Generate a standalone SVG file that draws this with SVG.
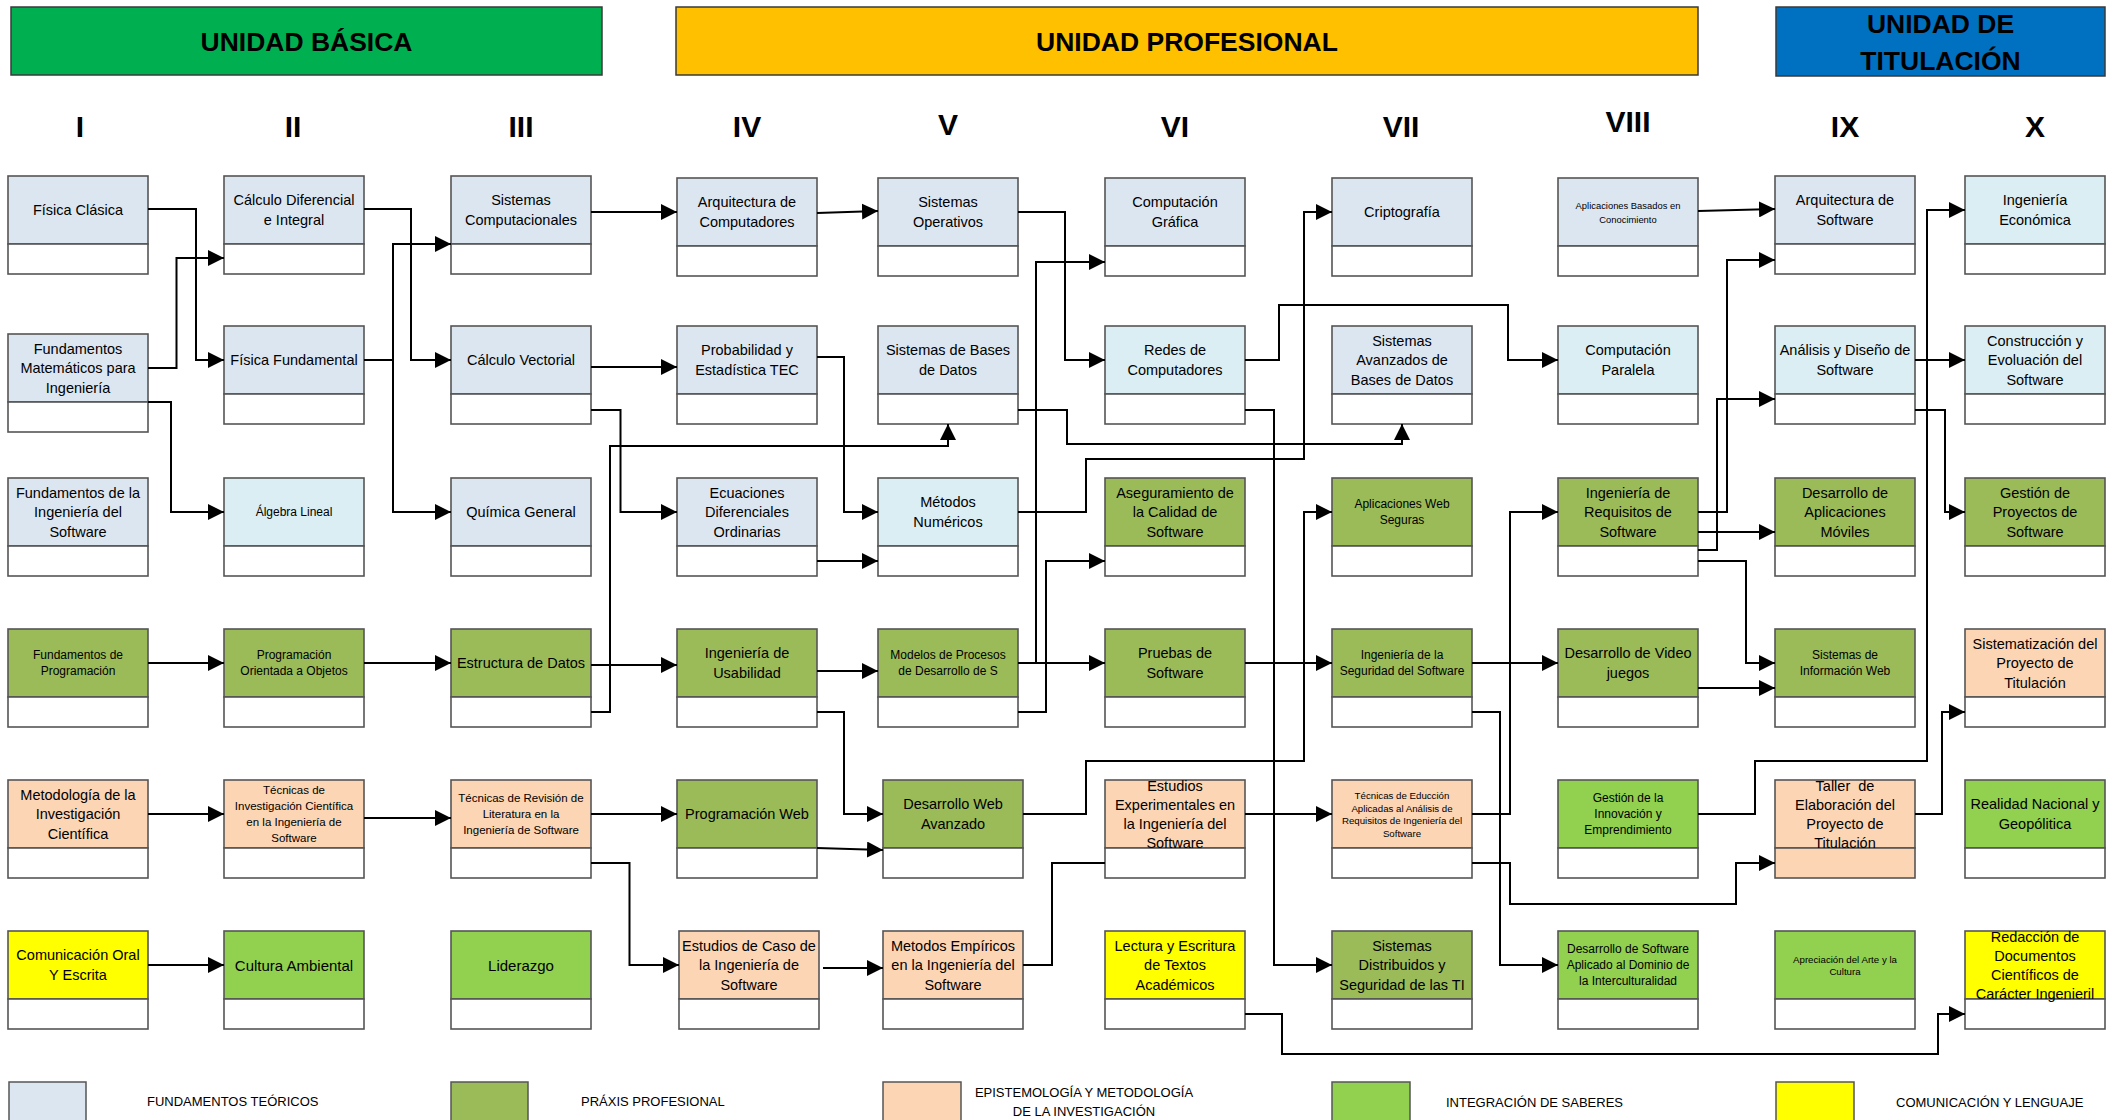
<svg xmlns="http://www.w3.org/2000/svg" width="2118" height="1120" viewBox="0 0 2118 1120">
<style>
text{font-family:"Liberation Sans",Arial,sans-serif;fill:#000}
.lbl,.lbl tspan{dominant-baseline:central;text-anchor:middle}
.t{font-size:14.5px}
.m{font-size:15px}
.s{font-size:12px}
.s2{font-size:11.5px}
.xs{font-size:9.7px}
.xs2{font-size:9.4px}
.hdr{font-size:26.5px;font-weight:bold;text-anchor:middle}
.rom{font-size:30px;font-weight:bold;text-anchor:middle}
.leg{font-size:13px}
.node rect{stroke:#555;stroke-width:1.6}
.bar{stroke:#3a3a3a;stroke-width:1.5}
.bot{fill:#fff}
.teo{fill:#DCE6F1}.teo2{fill:#DAEEF3}.pra{fill:#9BBB59}.epi{fill:#FCD5B4}.int{fill:#92D050}.com{fill:#FFFF00}
.conn path{fill:none;stroke:#000;stroke-width:2;marker-end:url(#ah)}
.conn path.na{marker-end:none}
.legsq{stroke:#555;stroke-width:1.5}
</style>
<defs>
<marker id="ah" markerUnits="userSpaceOnUse" viewBox="0 0 16 16" markerWidth="16" markerHeight="16" refX="16" refY="8" orient="auto"><path d="M0,0 L16,8 L0,16 z" fill="#000"/></marker>
</defs>
<rect width="2118" height="1120" fill="#fff"/>

<g id="headers">
<g id="hdr-basica"><rect class="bar" x="11" y="7" width="591" height="68" fill="#00B050"/><text class="hdr" x="306.5" y="50.5">UNIDAD BÁSICA</text></g>
<g id="hdr-profesional"><rect class="bar" x="676" y="7" width="1022" height="68" fill="#FFC000"/><text class="hdr" x="1187" y="50.5">UNIDAD PROFESIONAL</text></g>
<g id="hdr-titulacion"><rect class="bar" x="1776" y="7" width="329" height="69" fill="#0070C0"/><text class="hdr" x="1940.5" y="33">UNIDAD DE</text><text class="hdr" x="1940.5" y="69.5">TITULACIÓN</text></g>
</g>

<g id="semesters">
<text class="rom" x="80" y="137">I</text>
<text class="rom" x="293" y="137">II</text>
<text class="rom" x="521" y="137">III</text>
<text class="rom" x="747" y="137">IV</text>
<text class="rom" x="948" y="135">V</text>
<text class="rom" x="1175" y="137">VI</text>
<text class="rom" x="1401" y="137">VII</text>
<text class="rom" x="1628" y="132">VIII</text>
<text class="rom" x="1845" y="137">IX</text>
<text class="rom" x="2035" y="137">X</text>
</g>

<g id="nodes">
<!-- Column I -->
<g id="n-fisica-clasica" class="node"><rect class="teo" x="8" y="176" width="140" height="68"/><rect class="bot" x="8" y="244" width="140" height="30"/><text class="lbl t" x="78" y="210">Física Clásica</text></g>
<g id="n-fund-matematicos" class="node"><rect class="teo" x="8" y="334" width="140" height="68"/><rect class="bot" x="8" y="402" width="140" height="30"/><text class="lbl t" x="78" y="348.5"><tspan x="78" dy="0">Fundamentos</tspan><tspan x="78" dy="19.5">Matemáticos para</tspan><tspan x="78" dy="19.5">Ingeniería</tspan></text></g>
<g id="n-fund-ing-software" class="node"><rect class="teo" x="8" y="478" width="140" height="68"/><rect class="bot" x="8" y="546" width="140" height="30"/><text class="lbl t" x="78" y="492.5"><tspan x="78" dy="0">Fundamentos de la</tspan><tspan x="78" dy="19.5">Ingeniería del</tspan><tspan x="78" dy="19.5">Software</tspan></text></g>
<g id="n-fund-programacion" class="node"><rect class="pra" x="8" y="629" width="140" height="68"/><rect class="bot" x="8" y="697" width="140" height="30"/><text class="lbl s" x="78" y="655"><tspan x="78" dy="0">Fundamentos de</tspan><tspan x="78" dy="16">Programación</tspan></text></g>
<g id="n-metodologia" class="node"><rect class="epi" x="8" y="780" width="140" height="68"/><rect class="bot" x="8" y="848" width="140" height="30"/><text class="lbl t" x="78" y="794.5"><tspan x="78" dy="0">Metodología de la</tspan><tspan x="78" dy="19.5">Investigación</tspan><tspan x="78" dy="19.5">Científica</tspan></text></g>
<g id="n-comunicacion-oral" class="node"><rect class="com" x="8" y="931" width="140" height="68"/><rect class="bot" x="8" y="999" width="140" height="30"/><text class="lbl t" x="78" y="955.25"><tspan x="78" dy="0">Comunicación Oral</tspan><tspan x="78" dy="19.5">Y Escrita</tspan></text></g>

<!-- Column II -->
<g id="n-calculo-diferencial" class="node"><rect class="teo" x="224" y="176" width="140" height="68"/><rect class="bot" x="224" y="244" width="140" height="30"/><text class="lbl t" x="294" y="200.25"><tspan x="294" dy="0">Cálculo Diferencial</tspan><tspan x="294" dy="19.5">e Integral</tspan></text></g>
<g id="n-fisica-fundamental" class="node"><rect class="teo" x="224" y="326" width="140" height="68"/><rect class="bot" x="224" y="394" width="140" height="30"/><text class="lbl t" x="294" y="360">Física Fundamental</text></g>
<g id="n-algebra-lineal" class="node"><rect class="teo2" x="224" y="478" width="140" height="68"/><rect class="bot" x="224" y="546" width="140" height="30"/><text class="lbl s" x="294" y="512">Álgebra Lineal</text></g>
<g id="n-poo" class="node"><rect class="pra" x="224" y="629" width="140" height="68"/><rect class="bot" x="224" y="697" width="140" height="30"/><text class="lbl s" x="294" y="655"><tspan x="294" dy="0">Programación</tspan><tspan x="294" dy="16">Orientada a Objetos</tspan></text></g>
<g id="n-tecnicas-investigacion" class="node"><rect class="epi" x="224" y="780" width="140" height="68"/><rect class="bot" x="224" y="848" width="140" height="30"/><text class="lbl s2" x="294" y="790"><tspan x="294" dy="0">Técnicas de</tspan><tspan x="294" dy="16">Investigación Científica</tspan><tspan x="294" dy="16">en la Ingeniería de</tspan><tspan x="294" dy="16">Software</tspan></text></g>
<g id="n-cultura-ambiental" class="node"><rect class="int" x="224" y="931" width="140" height="68"/><rect class="bot" x="224" y="999" width="140" height="30"/><text class="lbl m" x="294" y="965">Cultura Ambiental</text></g>

<!-- Column III -->
<g id="n-sistemas-computacionales" class="node"><rect class="teo" x="451" y="176" width="140" height="68"/><rect class="bot" x="451" y="244" width="140" height="30"/><text class="lbl t" x="521" y="200.25"><tspan x="521" dy="0">Sistemas</tspan><tspan x="521" dy="19.5">Computacionales</tspan></text></g>
<g id="n-calculo-vectorial" class="node"><rect class="teo" x="451" y="326" width="140" height="68"/><rect class="bot" x="451" y="394" width="140" height="30"/><text class="lbl t" x="521" y="360">Cálculo Vectorial</text></g>
<g id="n-quimica-general" class="node"><rect class="teo" x="451" y="478" width="140" height="68"/><rect class="bot" x="451" y="546" width="140" height="30"/><text class="lbl t" x="521" y="512">Química General</text></g>
<g id="n-estructura-datos" class="node"><rect class="pra" x="451" y="629" width="140" height="68"/><rect class="bot" x="451" y="697" width="140" height="30"/><text class="lbl t" x="521" y="663">Estructura de Datos</text></g>
<g id="n-tecnicas-revision" class="node"><rect class="epi" x="451" y="780" width="140" height="68"/><rect class="bot" x="451" y="848" width="140" height="30"/><text class="lbl s2" x="521" y="798"><tspan x="521" dy="0">Técnicas de Revisión de</tspan><tspan x="521" dy="16">Literatura en la</tspan><tspan x="521" dy="16">Ingeniería de Software</tspan></text></g>
<g id="n-liderazgo" class="node"><rect class="int" x="451" y="931" width="140" height="68"/><rect class="bot" x="451" y="999" width="140" height="30"/><text class="lbl m" x="521" y="965">Liderazgo</text></g>

<!-- Column IV -->
<g id="n-arq-computadores" class="node"><rect class="teo" x="677" y="178" width="140" height="68"/><rect class="bot" x="677" y="246" width="140" height="30"/><text class="lbl t" x="747" y="202.25"><tspan x="747" dy="0">Arquitectura de</tspan><tspan x="747" dy="19.5">Computadores</tspan></text></g>
<g id="n-probabilidad" class="node"><rect class="teo" x="677" y="326" width="140" height="68"/><rect class="bot" x="677" y="394" width="140" height="30"/><text class="lbl t" x="747" y="350.25"><tspan x="747" dy="0">Probabilidad y</tspan><tspan x="747" dy="19.5">Estadística TEC</tspan></text></g>
<g id="n-ecuaciones" class="node"><rect class="teo" x="677" y="478" width="140" height="68"/><rect class="bot" x="677" y="546" width="140" height="30"/><text class="lbl t" x="747" y="492.5"><tspan x="747" dy="0">Ecuaciones</tspan><tspan x="747" dy="19.5">Diferenciales</tspan><tspan x="747" dy="19.5">Ordinarias</tspan></text></g>
<g id="n-ing-usabilidad" class="node"><rect class="pra" x="677" y="629" width="140" height="68"/><rect class="bot" x="677" y="697" width="140" height="30"/><text class="lbl t" x="747" y="653.25"><tspan x="747" dy="0">Ingeniería de</tspan><tspan x="747" dy="19.5">Usabilidad</tspan></text></g>
<g id="n-programacion-web" class="node"><rect class="pra" x="677" y="780" width="140" height="68"/><rect class="bot" x="677" y="848" width="140" height="30"/><text class="lbl t" x="747" y="814">Programación Web</text></g>
<g id="n-estudios-caso" class="node"><rect class="epi" x="679" y="931" width="140" height="68"/><rect class="bot" x="679" y="999" width="140" height="30"/><text class="lbl t" x="749" y="945.5"><tspan x="749" dy="0">Estudios de Caso de</tspan><tspan x="749" dy="19.5">la Ingeniería de</tspan><tspan x="749" dy="19.5">Software</tspan></text></g>

<!-- Column V -->
<g id="n-sistemas-operativos" class="node"><rect class="teo" x="878" y="178" width="140" height="68"/><rect class="bot" x="878" y="246" width="140" height="30"/><text class="lbl t" x="948" y="202.25"><tspan x="948" dy="0">Sistemas</tspan><tspan x="948" dy="19.5">Operativos</tspan></text></g>
<g id="n-sistemas-bd" class="node"><rect class="teo" x="878" y="326" width="140" height="68"/><rect class="bot" x="878" y="394" width="140" height="30"/><text class="lbl t" x="948" y="350.25"><tspan x="948" dy="0">Sistemas de Bases</tspan><tspan x="948" dy="19.5">de Datos</tspan></text></g>
<g id="n-metodos-numericos" class="node"><rect class="teo2" x="878" y="478" width="140" height="68"/><rect class="bot" x="878" y="546" width="140" height="30"/><text class="lbl t" x="948" y="502.25"><tspan x="948" dy="0">Métodos</tspan><tspan x="948" dy="19.5">Numéricos</tspan></text></g>
<g id="n-modelos-procesos" class="node"><rect class="pra" x="878" y="629" width="140" height="68"/><rect class="bot" x="878" y="697" width="140" height="30"/><text class="lbl s" x="948" y="655"><tspan x="948" dy="0">Modelos de Procesos</tspan><tspan x="948" dy="16">de Desarrollo de S</tspan></text></g>
<g id="n-desarrollo-web-avanzado" class="node"><rect class="pra" x="883" y="780" width="140" height="68"/><rect class="bot" x="883" y="848" width="140" height="30"/><text class="lbl t" x="953" y="804.25"><tspan x="953" dy="0">Desarrollo Web</tspan><tspan x="953" dy="19.5">Avanzado</tspan></text></g>
<g id="n-metodos-empiricos" class="node"><rect class="epi" x="883" y="931" width="140" height="68"/><rect class="bot" x="883" y="999" width="140" height="30"/><text class="lbl t" x="953" y="945.5"><tspan x="953" dy="0">Metodos Empíricos</tspan><tspan x="953" dy="19.5">en la Ingeniería del</tspan><tspan x="953" dy="19.5">Software</tspan></text></g>

<!-- Column VI -->
<g id="n-computacion-grafica" class="node"><rect class="teo" x="1105" y="178" width="140" height="68"/><rect class="bot" x="1105" y="246" width="140" height="30"/><text class="lbl t" x="1175" y="202.25"><tspan x="1175" dy="0">Computación</tspan><tspan x="1175" dy="19.5">Gráfica</tspan></text></g>
<g id="n-redes" class="node"><rect class="teo2" x="1105" y="326" width="140" height="68"/><rect class="bot" x="1105" y="394" width="140" height="30"/><text class="lbl t" x="1175" y="350.25"><tspan x="1175" dy="0">Redes de</tspan><tspan x="1175" dy="19.5">Computadores</tspan></text></g>
<g id="n-aseguramiento" class="node"><rect class="pra" x="1105" y="478" width="140" height="68"/><rect class="bot" x="1105" y="546" width="140" height="30"/><text class="lbl t" x="1175" y="492.5"><tspan x="1175" dy="0">Aseguramiento de</tspan><tspan x="1175" dy="19.5">la Calidad de</tspan><tspan x="1175" dy="19.5">Software</tspan></text></g>
<g id="n-pruebas" class="node"><rect class="pra" x="1105" y="629" width="140" height="68"/><rect class="bot" x="1105" y="697" width="140" height="30"/><text class="lbl t" x="1175" y="653.25"><tspan x="1175" dy="0">Pruebas de</tspan><tspan x="1175" dy="19.5">Software</tspan></text></g>
<g id="n-estudios-experimentales" class="node"><rect class="epi" x="1105" y="780" width="140" height="68"/><rect class="bot" x="1105" y="848" width="140" height="30"/><text class="lbl t" x="1175" y="785.5"><tspan x="1175" dy="0">Estudios</tspan><tspan x="1175" dy="19">Experimentales en</tspan><tspan x="1175" dy="19">la Ingeniería del</tspan><tspan x="1175" dy="19">Software</tspan></text></g>
<g id="n-lectura-escritura" class="node"><rect class="com" x="1105" y="931" width="140" height="68"/><rect class="bot" x="1105" y="999" width="140" height="30"/><text class="lbl t" x="1175" y="945.5"><tspan x="1175" dy="0">Lectura y Escritura</tspan><tspan x="1175" dy="19.5">de Textos</tspan><tspan x="1175" dy="19.5">Académicos</tspan></text></g>

<!-- Column VII -->
<g id="n-criptografia" class="node"><rect class="teo" x="1332" y="178" width="140" height="68"/><rect class="bot" x="1332" y="246" width="140" height="30"/><text class="lbl t" x="1402" y="212">Criptografía</text></g>
<g id="n-sistemas-avanzados-bd" class="node"><rect class="teo" x="1332" y="326" width="140" height="68"/><rect class="bot" x="1332" y="394" width="140" height="30"/><text class="lbl t" x="1402" y="340.5"><tspan x="1402" dy="0">Sistemas</tspan><tspan x="1402" dy="19.5">Avanzados de</tspan><tspan x="1402" dy="19.5">Bases de Datos</tspan></text></g>
<g id="n-aplicaciones-web-seguras" class="node"><rect class="pra" x="1332" y="478" width="140" height="68"/><rect class="bot" x="1332" y="546" width="140" height="30"/><text class="lbl s" x="1402" y="504"><tspan x="1402" dy="0">Aplicaciones Web</tspan><tspan x="1402" dy="16">Seguras</tspan></text></g>
<g id="n-ing-seguridad" class="node"><rect class="pra" x="1332" y="629" width="140" height="68"/><rect class="bot" x="1332" y="697" width="140" height="30"/><text class="lbl s" x="1402" y="655"><tspan x="1402" dy="0">Ingeniería de la</tspan><tspan x="1402" dy="16">Seguridad del Software</tspan></text></g>
<g id="n-tecnicas-educcion" class="node"><rect class="epi" x="1332" y="780" width="140" height="68"/><rect class="bot" x="1332" y="848" width="140" height="30"/><text class="lbl xs" x="1402" y="794.8"><tspan x="1402" dy="0">Técnicas de Educción</tspan><tspan x="1402" dy="12.8">Aplicadas al Análisis de</tspan><tspan x="1402" dy="12.8">Requisitos de Ingeniería del</tspan><tspan x="1402" dy="12.8">Software</tspan></text></g>
<g id="n-sistemas-distribuidos" class="node"><rect class="pra" x="1332" y="931" width="140" height="68"/><rect class="bot" x="1332" y="999" width="140" height="30"/><text class="lbl t" x="1402" y="945.5"><tspan x="1402" dy="0">Sistemas</tspan><tspan x="1402" dy="19.5">Distribuidos y</tspan><tspan x="1402" dy="19.5">Seguridad de las TI</tspan></text></g>

<!-- Column VIII -->
<g id="n-aplicaciones-conocimiento" class="node"><rect class="teo" x="1558" y="178" width="140" height="68"/><rect class="bot" x="1558" y="246" width="140" height="30"/><text class="lbl xs2" x="1628" y="205.35"><tspan x="1628" dy="0">Aplicaciones Basados en</tspan><tspan x="1628" dy="13.3">Conocimiento</tspan></text></g>
<g id="n-computacion-paralela" class="node"><rect class="teo2" x="1558" y="326" width="140" height="68"/><rect class="bot" x="1558" y="394" width="140" height="30"/><text class="lbl t" x="1628" y="350.25"><tspan x="1628" dy="0">Computación</tspan><tspan x="1628" dy="19.5">Paralela</tspan></text></g>
<g id="n-ing-requisitos" class="node"><rect class="pra" x="1558" y="478" width="140" height="68"/><rect class="bot" x="1558" y="546" width="140" height="30"/><text class="lbl t" x="1628" y="492.5"><tspan x="1628" dy="0">Ingeniería de</tspan><tspan x="1628" dy="19.5">Requisitos de</tspan><tspan x="1628" dy="19.5">Software</tspan></text></g>
<g id="n-video-juegos" class="node"><rect class="pra" x="1558" y="629" width="140" height="68"/><rect class="bot" x="1558" y="697" width="140" height="30"/><text class="lbl t" x="1628" y="653.25"><tspan x="1628" dy="0">Desarrollo de Video</tspan><tspan x="1628" dy="19.5">juegos</tspan></text></g>
<g id="n-gestion-innovacion" class="node"><rect class="int" x="1558" y="780" width="140" height="68"/><rect class="bot" x="1558" y="848" width="140" height="30"/><text class="lbl s" x="1628" y="798"><tspan x="1628" dy="0">Gestión de la</tspan><tspan x="1628" dy="16">Innovación y</tspan><tspan x="1628" dy="16">Emprendimiento</tspan></text></g>
<g id="n-software-interculturalidad" class="node"><rect class="int" x="1558" y="931" width="140" height="68"/><rect class="bot" x="1558" y="999" width="140" height="30"/><text class="lbl s" x="1628" y="949"><tspan x="1628" dy="0">Desarrollo de Software</tspan><tspan x="1628" dy="16">Aplicado al Dominio de</tspan><tspan x="1628" dy="16">la Interculturalidad</tspan></text></g>

<!-- Column IX -->
<g id="n-arq-software" class="node"><rect class="teo" x="1775" y="176" width="140" height="68"/><rect class="bot" x="1775" y="244" width="140" height="30"/><text class="lbl t" x="1845" y="200.25"><tspan x="1845" dy="0">Arquitectura de</tspan><tspan x="1845" dy="19.5">Software</tspan></text></g>
<g id="n-analisis-diseno" class="node"><rect class="teo2" x="1775" y="326" width="140" height="68"/><rect class="bot" x="1775" y="394" width="140" height="30"/><text class="lbl t" x="1845" y="350.25"><tspan x="1845" dy="0">Análisis y Diseño de</tspan><tspan x="1845" dy="19.5">Software</tspan></text></g>
<g id="n-apps-moviles" class="node"><rect class="pra" x="1775" y="478" width="140" height="68"/><rect class="bot" x="1775" y="546" width="140" height="30"/><text class="lbl t" x="1845" y="492.5"><tspan x="1845" dy="0">Desarrollo de</tspan><tspan x="1845" dy="19.5">Aplicaciones</tspan><tspan x="1845" dy="19.5">Móviles</tspan></text></g>
<g id="n-sistemas-info-web" class="node"><rect class="pra" x="1775" y="629" width="140" height="68"/><rect class="bot" x="1775" y="697" width="140" height="30"/><text class="lbl s" x="1845" y="655"><tspan x="1845" dy="0">Sistemas de</tspan><tspan x="1845" dy="16">Información Web</tspan></text></g>
<g id="n-taller-elaboracion" class="node"><rect class="epi" x="1775" y="780" width="140" height="68"/><rect class="epi" x="1775" y="848" width="140" height="30"/><text class="lbl t" x="1845" y="785.5" xml:space="preserve"><tspan x="1845" dy="0">Taller  de</tspan><tspan x="1845" dy="19">Elaboración del</tspan><tspan x="1845" dy="19">Proyecto de</tspan><tspan x="1845" dy="19">Titulación</tspan></text></g>
<g id="n-apreciacion-arte" class="node"><rect class="int" x="1775" y="931" width="140" height="68"/><rect class="bot" x="1775" y="999" width="140" height="30"/><text class="lbl xs" x="1845" y="959"><tspan x="1845" dy="0">Apreciación del Arte y la</tspan><tspan x="1845" dy="12">Cultura</tspan></text></g>

<!-- Column X -->
<g id="n-ing-economica" class="node"><rect class="teo2" x="1965" y="176" width="140" height="68"/><rect class="bot" x="1965" y="244" width="140" height="30"/><text class="lbl t" x="2035" y="200.25"><tspan x="2035" dy="0">Ingeniería</tspan><tspan x="2035" dy="19.5">Económica</tspan></text></g>
<g id="n-construccion" class="node"><rect class="teo2" x="1965" y="326" width="140" height="68"/><rect class="bot" x="1965" y="394" width="140" height="30"/><text class="lbl t" x="2035" y="340.5"><tspan x="2035" dy="0">Construcción y</tspan><tspan x="2035" dy="19.5">Evoluación del</tspan><tspan x="2035" dy="19.5">Software</tspan></text></g>
<g id="n-gestion-proyectos" class="node"><rect class="pra" x="1965" y="478" width="140" height="68"/><rect class="bot" x="1965" y="546" width="140" height="30"/><text class="lbl t" x="2035" y="492.5"><tspan x="2035" dy="0">Gestión de</tspan><tspan x="2035" dy="19.5">Proyectos de</tspan><tspan x="2035" dy="19.5">Software</tspan></text></g>
<g id="n-sistematizacion" class="node"><rect class="epi" x="1965" y="629" width="140" height="68"/><rect class="bot" x="1965" y="697" width="140" height="30"/><text class="lbl t" x="2035" y="643.5"><tspan x="2035" dy="0">Sistematización del</tspan><tspan x="2035" dy="19.5">Proyecto de</tspan><tspan x="2035" dy="19.5">Titulación</tspan></text></g>
<g id="n-realidad-nacional" class="node"><rect class="int" x="1965" y="780" width="140" height="68"/><rect class="bot" x="1965" y="848" width="140" height="30"/><text class="lbl t" x="2035" y="804.25"><tspan x="2035" dy="0">Realidad Nacional y</tspan><tspan x="2035" dy="19.5">Geopólitica</tspan></text></g>
<g id="n-redaccion" class="node"><rect class="com" x="1965" y="931" width="140" height="68"/><rect class="bot" x="1965" y="999" width="140" height="30"/><text class="lbl t" x="2035" y="936.5"><tspan x="2035" dy="0">Redacción de</tspan><tspan x="2035" dy="19">Documentos</tspan><tspan x="2035" dy="19">Científicos de</tspan><tspan x="2035" dy="19">Carácter Ingenieril</tspan></text></g>
</g>

<g id="connectors" class="conn">
<path d="M148,209 H196 V360 H224"/>
<path d="M148,368 H176.5 V258 H224"/>
<path d="M148,402 H171 V512 H224"/>
<path d="M364,209 H411 V360 H451"/>
<path d="M364,360 H393 V244 H451"/>
<path d="M364,360 H393 V512 H451"/>
<path d="M591,212 H677"/>
<path d="M591,367 H677"/>
<path d="M591,410 H620.5 V512 H677"/>
<path d="M148,663 H224"/>
<path d="M364,663 H451"/>
<path d="M591,665 H677"/>
<path d="M591,712 H610 V446 H948 V424"/>
<path d="M148,814 H224"/>
<path d="M364,818 H451"/>
<path d="M591,814 H677"/>
<path d="M591,863 H629.5 V965 H679"/>
<path d="M148,965 H224"/>
<path d="M817,213 L878,211"/>
<path d="M817,357 H844 V512 H878"/>
<path d="M817,561 H878"/>
<path d="M817,671 H878"/>
<path d="M817,712 H844 V814 H883"/>
<path d="M817,848 L883,850"/>
<path d="M823,968 H883"/>
<path d="M1018,212 H1065 V360 H1105"/>
<path d="M1018,410 H1067 V444 H1402 V424"/>
<path d="M1018,512 H1086 V459 H1304 V212 H1332"/>
<path d="M1018,663 H1036 V262 H1105"/>
<path d="M1018,663 H1105"/>
<path d="M1018,712 H1046 V561 H1105"/>
<path d="M1023,814 H1086 V761 H1304 V512 H1332"/>
<path class="na" d="M1023,965 H1052 V863 H1105"/>
<path d="M1245,360 H1279 V305 H1508 V360 H1558"/>
<path d="M1245,410 H1274 V965 H1332"/>
<path d="M1245,663 H1332"/>
<path d="M1245,814 H1332"/>
<path d="M1245,1014 H1282 V1054 H1938 V1014 H1965"/>
<path d="M1472,663 H1558"/>
<path d="M1472,712 H1500 V965 H1558"/>
<path d="M1472,814 H1510 V512 H1558"/>
<path d="M1472,863 H1510 V904 H1736 V863 H1775"/>
<path d="M1698,211 L1775,209"/>
<path d="M1698,512 H1727 V260 H1775"/>
<path d="M1698,532 H1775"/>
<path d="M1698,550 H1717 V399 H1775"/>
<path d="M1698,561 H1746 V663 H1775"/>
<path d="M1698,688 H1775"/>
<path d="M1698,814 H1755 V761 H1927 V210 H1965"/>
<path d="M1915,360 H1965"/>
<path d="M1915,410 H1945 V512 H1965"/>
<path d="M1915,814 H1942 V712 H1965"/>
</g>

<g id="legend">
<rect class="legsq teo" x="9" y="1082" width="77" height="42"/>
<text class="leg" x="147" y="1105.5">FUNDAMENTOS TEÓRICOS</text>
<rect class="legsq pra" x="451" y="1082" width="77" height="42"/>
<text class="leg" x="581" y="1106">PRÁXIS PROFESIONAL</text>
<rect class="legsq epi" x="883" y="1082" width="78" height="42"/>
<text class="leg" x="1084" y="1096.5" text-anchor="middle">EPISTEMOLOGÍA Y METODOLOGÍA</text>
<text class="leg" x="1084" y="1115.5" text-anchor="middle">DE LA INVESTIGACIÓN</text>
<rect class="legsq int" x="1332" y="1082" width="78" height="42"/>
<text class="leg" x="1446" y="1106.5">INTEGRACIÓN DE SABERES</text>
<rect class="legsq com" x="1776" y="1082" width="78" height="42"/>
<text class="leg" x="1896" y="1106.5">COMUNICACIÓN Y LENGUAJE</text>
</g>
</svg>
